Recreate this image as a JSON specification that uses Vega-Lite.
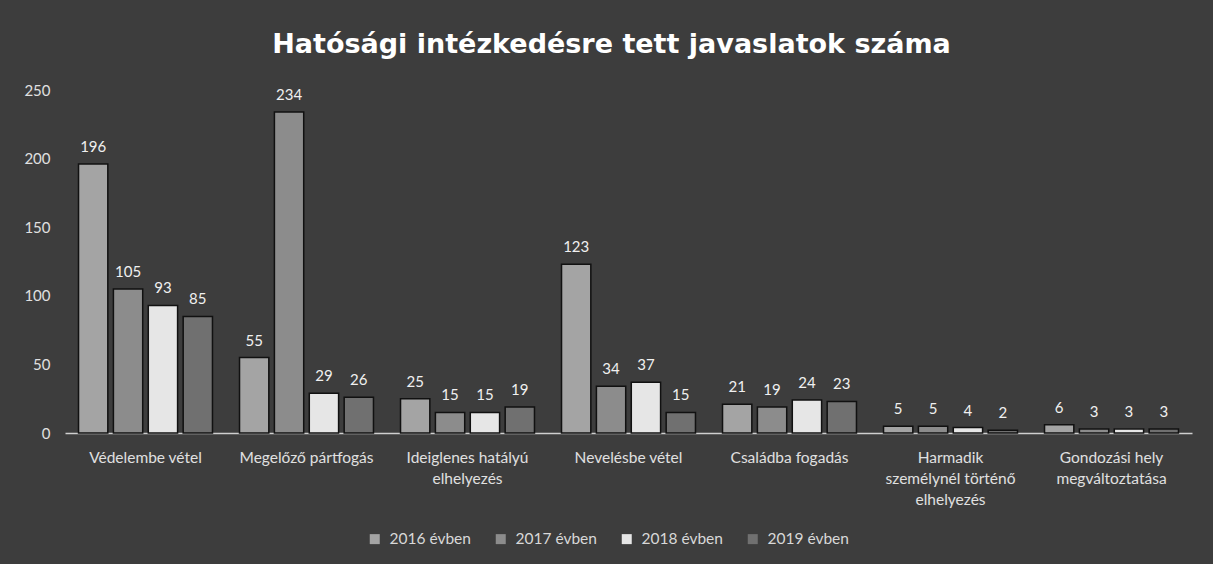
{
  "$schema": "https://vega.github.io/schema/vega-lite/v6.json",
  "autosize": {"type": "none"},
  "width": 1127,
  "height": 343,
  "padding": {"left": 65, "right": 21, "top": 90, "bottom": 131},
  "background": "#3d3d3d",
  "title": {
    "text": "Hatósági  intézkedésre  tett  javaslatok  száma",
    "font": "DejaVu Sans",
    "fontSize": 27,
    "fontWeight": "bold",
    "color": "#ffffff",
    "anchor": "middle",
    "dx": -17,
    "offset": 24
  },
  "config": {
    "view": {"stroke": null},
    "font": "Lato"
  },
  "data": {
    "values": [
      {"cat": "Védelembe vétel", "year": "2016 évben", "v": 196},
      {"cat": "Védelembe vétel", "year": "2017 évben", "v": 105},
      {"cat": "Védelembe vétel", "year": "2018 évben", "v": 93},
      {"cat": "Védelembe vétel", "year": "2019 évben", "v": 85},
      {"cat": "Megelőző pártfogás", "year": "2016 évben", "v": 55},
      {"cat": "Megelőző pártfogás", "year": "2017 évben", "v": 234},
      {"cat": "Megelőző pártfogás", "year": "2018 évben", "v": 29},
      {"cat": "Megelőző pártfogás", "year": "2019 évben", "v": 26},
      {"cat": "Ideiglenes hatályú|elhelyezés", "year": "2016 évben", "v": 25},
      {"cat": "Ideiglenes hatályú|elhelyezés", "year": "2017 évben", "v": 15},
      {"cat": "Ideiglenes hatályú|elhelyezés", "year": "2018 évben", "v": 15},
      {"cat": "Ideiglenes hatályú|elhelyezés", "year": "2019 évben", "v": 19},
      {"cat": "Nevelésbe vétel", "year": "2016 évben", "v": 123},
      {"cat": "Nevelésbe vétel", "year": "2017 évben", "v": 34},
      {"cat": "Nevelésbe vétel", "year": "2018 évben", "v": 37},
      {"cat": "Nevelésbe vétel", "year": "2019 évben", "v": 15},
      {"cat": "Családba fogadás", "year": "2016 évben", "v": 21},
      {"cat": "Családba fogadás", "year": "2017 évben", "v": 19},
      {"cat": "Családba fogadás", "year": "2018 évben", "v": 24},
      {"cat": "Családba fogadás", "year": "2019 évben", "v": 23},
      {"cat": "Harmadik|személynél történő|elhelyezés", "year": "2016 évben", "v": 5},
      {"cat": "Harmadik|személynél történő|elhelyezés", "year": "2017 évben", "v": 5},
      {"cat": "Harmadik|személynél történő|elhelyezés", "year": "2018 évben", "v": 4},
      {"cat": "Harmadik|személynél történő|elhelyezés", "year": "2019 évben", "v": 2},
      {"cat": "Gondozási hely|megváltoztatása", "year": "2016 évben", "v": 6},
      {"cat": "Gondozási hely|megváltoztatása", "year": "2017 évben", "v": 3},
      {"cat": "Gondozási hely|megváltoztatása", "year": "2018 évben", "v": 3},
      {"cat": "Gondozási hely|megváltoztatása", "year": "2019 évben", "v": 3}
    ]
  },
  "encoding": {
    "x": {
      "field": "cat",
      "type": "nominal",
      "sort": null,
      "scale": {"paddingInner": 0.168, "paddingOuter": 0.084},
      "axis": {
        "title": null,
        "labelAngle": 0,
        "labelExpr": "split(datum.label, '|')",
        "labelColor": "#e0e0e0",
        "labelFontSize": 15.5,
        "labelPadding": 17,
        "labelLineHeight": 21,
        "ticks": false,
        "domainColor": "#cfcfcf",
        "domainWidth": 1.5
      }
    },
    "xOffset": {
      "field": "year",
      "type": "nominal",
      "scale": {"paddingInner": 0.16}
    },
    "y": {
      "field": "v",
      "type": "quantitative",
      "scale": {"domain": [0, 250], "nice": false},
      "axis": {
        "title": null,
        "values": [0, 50, 100, 150, 200, 250],
        "grid": false,
        "domain": false,
        "ticks": false,
        "labelColor": "#e0e0e0",
        "labelFontSize": 15,
        "labelPadding": 15
      }
    }
  },
  "layer": [
    {
      "mark": {"type": "bar", "stroke": "#111111", "strokeWidth": 1.5},
      "encoding": {
        "color": {
          "field": "year",
          "type": "nominal",
          "scale": {
            "domain": ["2016 évben", "2017 évben", "2018 évben", "2019 évben"],
            "range": ["#a4a4a4", "#8c8c8c", "#e6e6e6", "#707070"]
          },
          "legend": {
            "title": null,
            "orient": "none",
            "legendX": 302,
            "legendY": 441,
            "direction": "horizontal",
            "symbolType": "square",
            "symbolSize": 100,
            "symbolStrokeWidth": 0,
            "labelColor": "#d8d8d8",
            "labelFontSize": 15.5,
            "labelOffset": 7,
            "columnPadding": 22
          }
        }
      }
    },
    {
      "mark": {"type": "text", "dy": -17, "color": "#f0f0f0", "fontSize": 15},
      "encoding": {"text": {"field": "v", "type": "quantitative"}}
    }
  ]
}
